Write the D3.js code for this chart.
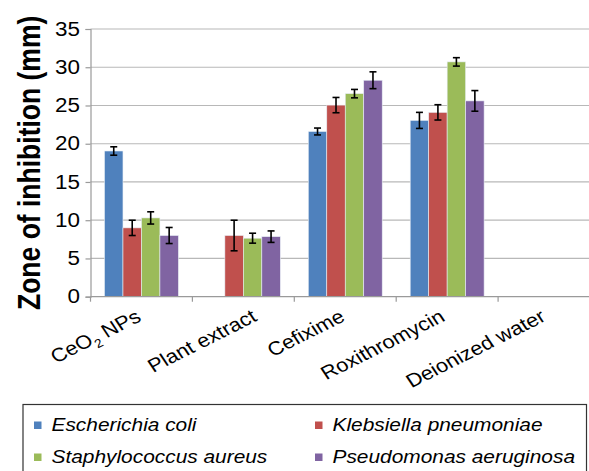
<!DOCTYPE html>
<html><head><meta charset="utf-8">
<script src="https://cdn.jsdelivr.net/npm/d3@7"></script>
<style>body{margin:0;background:#fff}svg{display:block}</style>
</head><body>
<svg id="c" width="589" height="471"></svg>
<script>
const categories = ["CeO2 NPs", "Plant extract", "Cefixime", "Roxithromycin", "Deionized water"];
const seriesNames = ["Escherichia coli", "Klebsiella pneumoniae", "Staphylococcus aureus", "Pseudomonas aeruginosa"];
const colors = ["#4F81BD", "#C0504D", "#9BBB59", "#8064A2"];
const ecoli = [19.05, 0, 21.6, 23.05, 0];
const kpneu = [9.0, 8.0, 25.05, 24.1, 0];
const saur = [10.3, 7.65, 26.55, 30.7, 0];
const paer = [8.0, 7.85, 28.3, 25.6, 0];
const ecoliErr = [0.55, 0, 0.45, 1.05, 0];
const kpneuErr = [1.0, 2.0, 1.0, 1.0, 0];
const saurErr = [0.8, 0.65, 0.55, 0.55, 0];
const paerErr = [1.05, 0.75, 1.1, 1.35, 0];
const yTicks = [0, 5, 10, 15, 20, 25, 30, 35];

const values = [ecoli, kpneu, saur, paer];
const errs = [ecoliErr, kpneuErr, saurErr, paerErr];
const FONT = "Liberation Sans, Arial, sans-serif";
const SX = 1.15; // horizontal stretch of the reference rendering

const svg = d3.select("#c");
const pLeft = 90.5, pRight = 600, pTop = 29, pBottom = 296.7;
const x = d3.scaleBand().domain(categories).range([pLeft, pRight]).paddingInner(0).paddingOuter(0);
const x1 = d3.scaleBand().domain(d3.range(4)).range([14, x.bandwidth() - 14]);
const y = d3.scaleLinear().domain([0, 35]).range([pBottom, pTop]);

// gridlines
svg.append("g").selectAll("line").data(yTicks.filter(d => d > 0)).join("line")
  .attr("x1", pLeft).attr("x2", pRight).attr("y1", d => y(d)).attr("y2", d => y(d))
  .attr("stroke", "#b8b8b8").attr("stroke-width", 1.2);

// bars
const g = svg.append("g");
values.forEach((vals, si) => {
  g.selectAll(".b" + si).data(categories.map((c, i) => ({c, v: vals[i], e: errs[si][i]})).filter(d => d.v > 0))
    .join("rect")
    .attr("x", d => x(d.c) + x1(si))
    .attr("width", x1.bandwidth())
    .attr("y", d => y(d.v))
    .attr("height", d => y(0) - y(d.v))
    .attr("fill", colors[si])
    .attr("stroke", "#e8eef6").attr("stroke-width", 0.6);
});
// error bars
values.forEach((vals, si) => {
  const data = categories.map((c, i) => ({c, v: vals[i], e: errs[si][i]})).filter(d => d.v > 0);
  const eg = g.append("g").attr("stroke", "#000").attr("stroke-width", 1.6);
  data.forEach(d => {
    const cx = x(d.c) + x1(si) + x1.bandwidth() / 2;
    eg.append("line").attr("x1", cx).attr("x2", cx).attr("y1", y(d.v + d.e)).attr("y2", y(d.v - d.e));
    eg.append("line").attr("x1", cx - 3.5).attr("x2", cx + 3.5).attr("y1", y(d.v + d.e)).attr("y2", y(d.v + d.e));
    eg.append("line").attr("x1", cx - 3.5).attr("x2", cx + 3.5).attr("y1", y(d.v - d.e)).attr("y2", y(d.v - d.e));
  });
});

// y axis
const ya = svg.append("g").attr("transform", `translate(${pLeft},0)`)
  .call(d3.axisLeft(y).tickValues(yTicks).tickSize(5).tickPadding(5));
ya.select(".domain").attr("stroke", "#9a9a9a").attr("stroke-width", 1.2);
ya.selectAll(".tick line").attr("stroke", "#9a9a9a").attr("stroke-width", 1.2);
ya.selectAll(".tick text").attr("font-family", FONT).attr("font-size", 19.5).attr("fill", "#000")
  .attr("x", null).attr("transform", `translate(-10.5,0) scale(${SX},1)`);

// x axis
const xa = svg.append("g").attr("transform", `translate(0,${pBottom})`);
xa.append("line").attr("x1", pLeft).attr("x2", pRight).attr("stroke", "#9a9a9a").attr("stroke-width", 1.2);
xa.selectAll(".t").data(categories.map(c => x(c)).concat([pRight])).join("line")
  .attr("x1", d => d).attr("x2", d => d).attr("y1", 0).attr("y2", 5).attr("stroke", "#9a9a9a").attr("stroke-width", 1.2);
const labelShift = [1, 15, 1, -1, -2];
const labs = xa.selectAll(".lab").data(categories).join("text")
  .attr("font-family", FONT).attr("font-size", 19).attr("fill", "#000")
  .attr("text-anchor", "end")
  .attr("transform", (d, i) => `translate(${x(d) + x.bandwidth() / 2 + labelShift[i]},${23.5}) scale(${SX},1) rotate(-30)`);
labs.each(function(d) {
  const t = d3.select(this);
  if (d === "CeO2 NPs") {
    t.append("tspan").text("CeO");
    t.append("tspan").text("2").attr("font-size", 12).attr("dy", 5);
    t.append("tspan").text(" NPs").attr("dy", -5);
  } else t.text(d);
});

// y label
svg.append("text").attr("transform", `translate(39.5,${(pTop + pBottom) / 2}) scale(${SX},1) rotate(-90)`)
  .attr("text-anchor", "middle").attr("font-family", FONT)
  .attr("font-weight", "bold").attr("font-size", 26.5).text("Zone of inhibition (mm)");

// legend
svg.append("rect").attr("x", 23).attr("y", 404.5).attr("width", 563.5).attr("height", 80)
  .attr("fill", "#fff").attr("stroke", "#333").attr("stroke-width", 1.2);
const lpos = [[34, 431], [315, 431], [34, 463], [315, 463]];
seriesNames.forEach((n, i) => {
  const [lx, ly] = lpos[i];
  svg.append("rect").attr("x", lx).attr("y", ly - 9.5).attr("width", 7.5).attr("height", 7.5).attr("fill", colors[i]);
  svg.append("text").attr("transform", `translate(${lx + 17.5},${ly}) scale(1.16,1)`).attr("font-family", FONT)
    .attr("font-style", "italic").attr("font-size", 18).text(n);
});
</script>
</body></html>
